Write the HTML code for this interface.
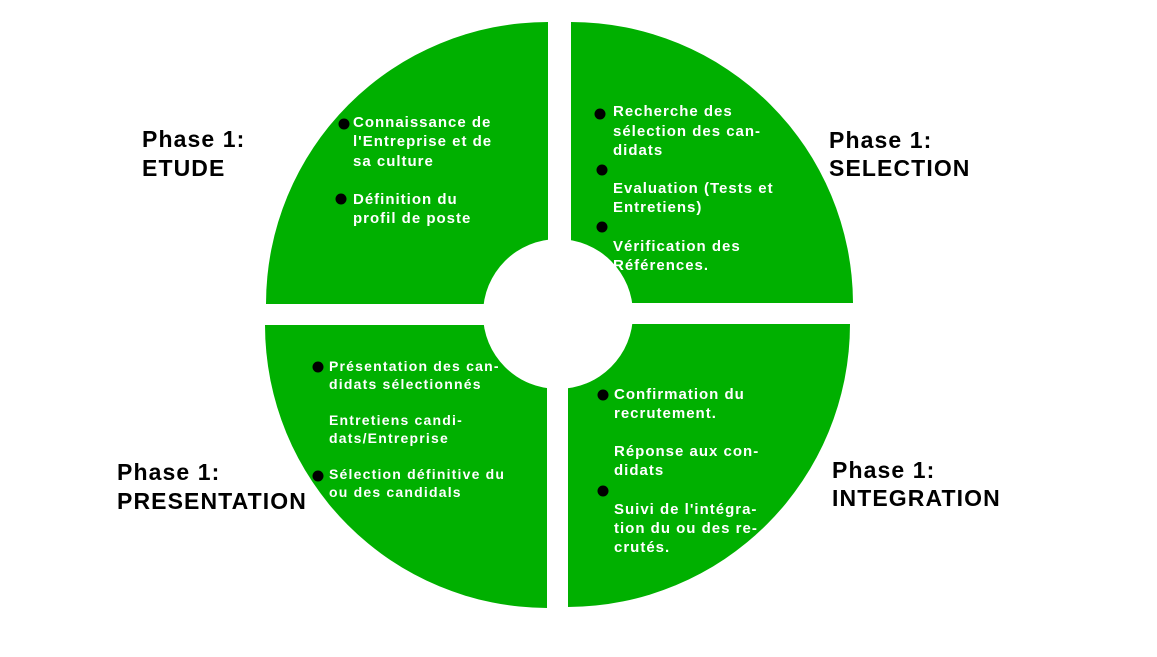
<!DOCTYPE html>
<html><head><meta charset="utf-8"><style>
html,body{margin:0;padding:0;background:#fff;}
svg{display:block;}
.w{fill:#fff;font-family:"Liberation Sans",sans-serif;font-weight:bold;font-size:15px;letter-spacing:1px;}
.s{font-size:14px;letter-spacing:1.2px;}
.b{fill:#000;font-family:"Liberation Sans",sans-serif;font-weight:bold;font-size:23px;letter-spacing:1.1px;}
</style></head><body>
<svg width="1157" height="657" viewBox="0 0 1157 657" xmlns="http://www.w3.org/2000/svg">
<rect width="1157" height="657" fill="#fff"/>
<g fill="#00b000">
<path d="M548,304 L266,304 A282,282 0 0 1 548,22 Z"/>
<path d="M571,303 L571,22 A282,282 0 0 1 853,303 Z"/>
<path d="M547,325 L547,608 A283,283 0 0 1 265,325 Z"/>
<path d="M568,324 L850,324 A283,283 0 0 1 568,607 Z"/>
</g>
<circle cx="558" cy="314" r="75" fill="#fff"/>
<g fill="#000">
<circle cx="344" cy="124" r="5.5"/><circle cx="341" cy="199" r="5.5"/>
<circle cx="600" cy="114" r="5.5"/><circle cx="602" cy="170" r="5.5"/><circle cx="602" cy="227" r="5.5"/>
<circle cx="318" cy="367" r="5.5"/><circle cx="318" cy="476" r="5.5"/>
<circle cx="603" cy="395" r="5.5"/><circle cx="603" cy="491" r="5.5"/>
</g>
<g class="w">
<text x="353" y="127">Connaissance de</text>
<text x="353" y="146">l'Entreprise et de</text>
<text x="353" y="166">sa culture</text>
<text x="353" y="204">Définition du</text>
<text x="353" y="223">profil de poste</text>
<text x="613" y="116">Recherche des</text>
<text x="613" y="136">sélection des can-</text>
<text x="613" y="155">didats</text>
<text x="613" y="193">Evaluation (Tests et</text>
<text x="613" y="212">Entretiens)</text>
<text x="613" y="251">Vérification des</text>
<text x="613" y="270">Références.</text>
<text class="s" x="329" y="371">Présentation des can-</text>
<text class="s" x="329" y="389">didats sélectionnés</text>
<text class="s" x="329" y="425">Entretiens candi-</text>
<text class="s" x="329" y="443">dats/Entreprise</text>
<text class="s" x="329" y="479">Sélection définitive du</text>
<text class="s" x="329" y="497">ou des candidals</text>
<text x="614" y="399">Confirmation du</text>
<text x="614" y="418">recrutement.</text>
<text x="614" y="456">Réponse aux con-</text>
<text x="614" y="475">didats</text>
<text x="614" y="514">Suivi de l'intégra-</text>
<text x="614" y="533">tion du ou des re-</text>
<text x="614" y="552">crutés.</text>
</g>
<g class="b">
<text x="142" y="147">Phase 1:</text><text x="142" y="176">ETUDE</text>
<text x="829" y="148">Phase 1:</text><text x="829" y="176">SELECTION</text>
<text x="117" y="480">Phase 1:</text><text x="117" y="509">PRESENTATION</text>
<text x="832" y="478">Phase 1:</text><text x="832" y="506">INTEGRATION</text>
</g>
</svg>
</body></html>
